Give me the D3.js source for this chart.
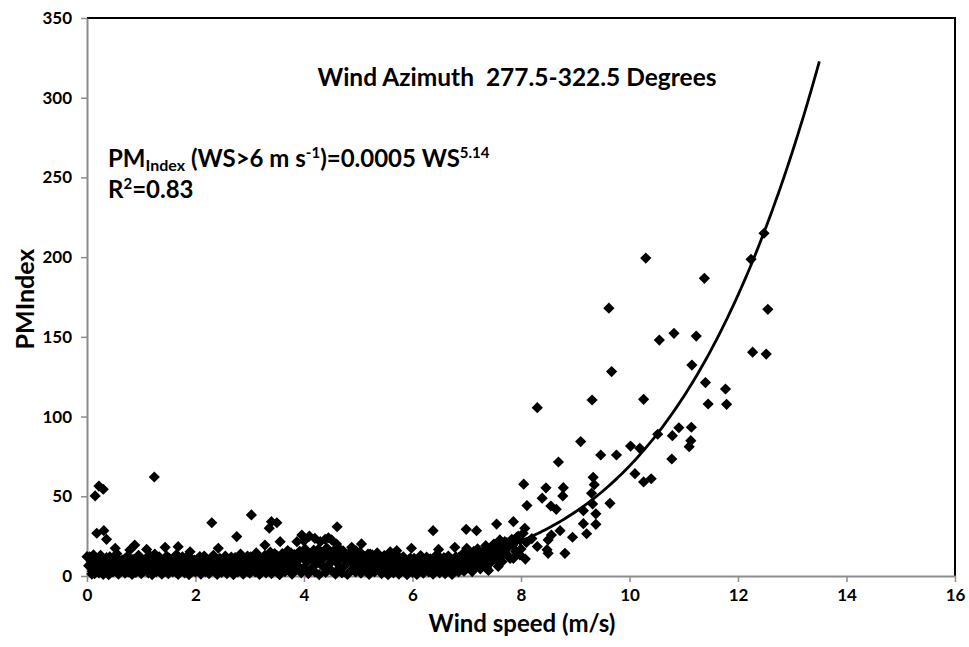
<!DOCTYPE html>
<html>
<head>
<meta charset="utf-8">
<script src="https://cdn.jsdelivr.net/npm/d3@7"></script>
<style>
  html, body { margin: 0; padding: 0; background: #fff; }
  svg text { font-family: Lato, "Open Sans", "Liberation Sans", sans-serif; font-weight: bold; fill: #000; }
</style>
</head>
<body>
<svg id="chart" width="969" height="647"></svg>
<script>
// Axis ticks
const xTicks = [0, 2, 4, 6, 8, 10, 12, 14, 16];
const yTicks = [0, 50, 100, 150, 200, 250, 300, 350];

// Power-law fit for WS > 6 m/s: PMIndex = a * WS^b
const fitCoef = 0.0005;
const fitExp = 5.14;
const fitRange = [6, 13.5];

// Observations: [wind speed (m/s), PMIndex]
const calmObs = [
  [0.05,12],[0.08,9],[0.1,3],[0.12,6],[0.14,1.5],[0.16,11],[0.18,4],[0.2,8],[0.22,2],[0.25,13],
  [0.27,5],[0.3,1],[0.32,9.5],[0.35,3.5],[0.38,7],[0.4,0.8],[0.42,12],[0.45,5.5],[0.48,2.5],[0.5,9],
  [0.53,4],[0.55,14],[0.58,1.2],[0.6,7.5],[0.63,3],[0.65,10],[0.68,5],[0.7,1.8],[0.73,8.5],[0.75,12.5],
  [0.78,3.8],[0.8,6.5],[0.83,1],[0.85,10.5],[0.88,4.5],[0.9,2.2],[0.93,8],[0.95,13],[0.98,5.8],
  [1.0,1.5],[1.03,9.8],[1.05,3.2],[1.08,6.8],[1.1,11.5],[1.13,2],[1.15,7.8],[1.18,4.8],[1.2,0.9],[1.22,10.2],
  [1.25,5.5],[1.28,2.8],[1.3,8.8],[1.33,12],[1.35,4],[1.38,1.2],[1.4,7],[1.43,9.5],[1.45,3],[1.48,5.8],
  [1.5,1.5],[1.52,11],[1.55,6.5],[1.58,2.5],[1.6,8.5],[1.63,4.2],[1.65,13.5],[1.68,1],[1.7,6],[1.73,9],
  [1.75,3.5],[1.78,7.5],[1.8,2],[1.83,11.8],[1.85,5],[1.88,0.8],[1.9,8.2],[1.93,3.8],[1.95,6.2],[1.98,10],
  [2.0,2.5],[2.03,7.2],[2.05,4.5],[2.08,12.2],[2.1,1.2],[2.13,8.8],[2.15,5.2],[2.18,2.8],[2.2,10.5],[2.22,6.8],
  [2.25,1.5],[2.28,4],[2.3,9.2],[2.33,13],[2.35,3],[2.38,7],[2.4,1],[2.43,5.5],[2.45,11],[2.48,2.2],
  [2.5,8],[2.53,4.8],[2.55,12.5],[2.58,1.5],[2.6,6.5],[2.63,9.8],[2.65,3.2],[2.68,7.5],[2.7,0.9],[2.73,11.5],
  [2.75,5],[2.78,2.5],[2.8,8.5],[2.83,13.8],[2.85,4.2],[2.88,1.2],[2.9,6.8],[2.93,10.2],[2.95,3],[2.98,7.8],
  [3.0,1.8],[3.02,12],[3.05,5.5],[3.08,9],[3.1,2.5],[3.12,14.5],[3.15,6.5],[3.18,1],[3.2,10.8],[3.22,4],
  [3.25,7.8],[3.28,13],[3.3,2],[3.32,9.5],[3.35,5],[3.38,15],[3.4,1.5],[3.42,11.2],[3.45,6.8],[3.48,3.2],
  [3.5,12.8],[3.52,8.5],[3.55,0.8],[3.58,4.5],[3.6,14],[3.62,10],[3.65,2.8],[3.68,7],[3.7,16],[3.72,5.2],
  [3.75,11.5],[3.78,1.2],[3.8,8.2],[3.82,13.5],[3.85,3.8],[3.88,9.8],[3.9,6],[3.92,15.5],[3.95,2],[3.98,12.2],
  [4.0,5],[4.02,17],[4.05,8.8],[4.08,1.5],[4.1,13.8],[4.12,4.2],[4.15,10.5],[4.18,16.2],[4.2,2.5],[4.22,7.5],
  [4.25,12.8],[4.28,0.9],[4.3,9.2],[4.32,15],[4.35,5.8],[4.38,11.8],[4.4,2.2],[4.42,17.5],[4.45,7],[4.48,13.2],
  [4.5,3.5],[4.52,10],[4.55,16],[4.58,1.2],[4.6,8.5],[4.62,14.2],[4.65,4.8],[4.68,11],[4.7,2],[4.72,15.8],
  [4.75,6.5],[4.78,12.5],[4.8,1],[4.82,9],[4.85,14.8],[4.88,3.8],[4.9,7.8],[4.92,13],[4.95,2.5],[4.98,10.8],
  [5.0,5.5],[5.03,15],[5.05,1.8],[5.08,8.8],[5.1,12.5],[5.13,3.5],[5.15,7],[5.18,13.8],[5.2,1],[5.22,9.8],
  [5.25,5],[5.28,11.5],[5.3,2.5],[5.33,7.8],[5.35,14.5],[5.38,4],[5.4,10],[5.43,1.5],[5.45,6.5],[5.48,12.8],
  [5.5,3],[5.53,8.5],[5.55,0.8],[5.58,11],[5.6,5.5],[5.63,13.5],[5.65,2],[5.68,7.5],[5.7,10.8],[5.73,4],
  [5.75,1.2],[5.78,9],[5.8,6],[5.83,12],[5.85,2.8],[5.88,7.2],[5.9,0.9],[5.93,10.2],[5.95,4.5],[5.98,8],
  [6.0,2.2],[6.03,11],[6.05,5.2],[6.08,1],[6.1,8.5],[6.13,3.5],[6.15,12.8],[6.18,6.2],[6.2,1.8],[6.23,9.5],
  [6.25,4.2],[6.28,7],[6.3,2.5],[6.33,10.8],[6.35,5.5],[6.38,1.2],[6.4,8],[6.43,3.8],[6.45,13.5],[6.48,6.5],
  [6.5,2],[6.53,9.2],[6.55,4.8],[6.58,11.5],[6.6,1.5],[6.63,7.5],[6.65,3.2],[6.68,10],[6.7,5.8],[6.73,1],
  [6.75,8.8],[6.78,4],[6.8,12],[6.83,6.8],[6.85,2.5],[6.88,9.8],[6.9,5],[6.93,14],[6.95,3],[6.98,7.8],
  [7.0,11.2],[7.03,5.5],[7.05,13.5],[7.08,8.5],[7.1,2.8],[7.13,15.5],[7.15,10],[7.18,6.2],[7.2,17],[7.23,12],
  [7.25,4.5],[7.28,9],[7.3,14.8],[7.33,7.5],[7.35,19],[7.38,11.5],[7.4,3.5],[7.43,16],[7.45,8.8],[7.48,13],
  [7.5,20],[7.53,10.5],[7.55,15],[7.58,6],[7.6,18.5],[7.63,12.5],[7.65,9],[7.7,21.5],[7.73,14],[7.75,17.5],
  [7.8,11],[7.83,23],[7.85,19.5],[7.9,15.5],[7.95,25],[7.98,13.2]
];

// Second batch of calm-wind readings from the same sector
const calmObsB = [
  [0.03,6.5],[0.09,1.2],[0.19,10.5],[0.28,7.5],[0.36,11.5],[0.46,3],[0.57,10.8],[0.66,6],[0.76,2.5],[0.86,7.2],
  [0.97,10.2],[1.07,4.5],[1.16,12.8],[1.27,7.2],[1.36,10.5],[1.47,12.5],[1.57,4.8],[1.67,9.2],[1.76,12],[1.86,7],
  [1.97,3.2],[2.06,9.8],[2.16,12.5],[2.26,6],[2.36,10.8],[2.46,7.2],[2.56,3.5],[2.66,11.8],[2.76,8.8],[2.86,10.5],
  [2.96,12.5],[3.06,11],[3.16,12.2],[3.26,10.2],[3.36,12.5],[3.46,14],[3.56,11.5],[3.66,13.2],[3.76,14.5],[3.86,11.8],
  [3.96,14.8],[4.06,13],[4.16,14.2],[4.26,16.5],[4.36,13.5],[4.46,15.5],[4.56,12.8],[4.66,16.8],[4.76,14],[4.86,12],
  [4.96,15.8],[5.06,11.5],[5.16,10.5],[5.26,13.2],[5.36,12],[5.46,9.5],[5.56,12.8],[5.66,10.5],[5.76,11.5],[5.86,9.8],
  [5.96,11.2],[6.06,9.5],[6.16,10.5],[6.26,11.8],[6.36,9],[6.46,10.8],[6.56,8.2],[6.66,12.5],[6.76,10.5],[6.86,11.8],
  [6.96,10.2],[7.06,12.2],[7.16,13],[7.26,12],[7.36,15],[7.46,17],[7.56,13.5],[7.66,16.5],[7.76,19],[7.88,21],
  [0.13,4.8],[0.43,9.8],[0.71,11],[1.02,6.2],[1.31,3.5],[1.62,6],[1.91,11.2],[2.21,3.8],[2.51,10.5],[2.81,6],
  [3.11,8.2],[3.41,8.8],[3.71,9.5],[4.01,10.2],[4.31,11],[4.61,10.5],[4.91,8.5],[5.21,7.5],[5.51,8],[5.81,4.2],
  [6.11,5.8],[6.41,6],[6.71,4.5],[7.01,7.2],[7.31,9.5],[7.61,11.5]
];

// Scattered higher readings at low and moderate wind speeds
const lowWindPeaks = [
  [0.15,50.2],[0.22,56.4],[0.3,54.4],[1.24,62.1],[0.18,26.8],[0.31,28.4],[0.36,23],[0,12.1],[0.12,13.2],
  [0.52,17.4],[0.79,16.3],[0.88,19.4],[1.1,16.7],[1.25,13.8],[1.44,18],[1.68,18.4],[1.9,15.2],
  [2.3,33.4],[2.42,17.4],[2.76,24.7],[3.03,38.3],[3.28,19.4],[3.36,30],[3.4,34.1],[3.5,33.4],
  [3.56,21.5],[3.87,21.5],[3.96,25.7],[4.0,22],[4.1,25],[4.2,23.6],[4.3,21.5],[4.39,23],[4.45,24],
  [4.51,22.6],[4.6,20],[4.61,30.9],[4.88,18],[5.06,20.1],[5.22,13.8],[5.59,15.2],[5.71,15.9],
  [5.98,17.4],[6.38,28.4],[6.48,16.7],[6.78,18],[7.0,17.4],[6.99,29.3],[7.18,28.4],[7.55,32.6],
  [7.86,34.1],[7.61,22.6],[7.74,20.9],[7.92,24.3],[7.49,16.3],[7.43,14.2],[7.37,4.8],[7.86,11.1]
];

// Readings at strong winds
const strongWindObs = [
  [7.98,22.6],[8.0,17],[8.04,26.8],[8.07,29.9],[8.08,10.6],[8.1,21],[8.2,23.5],[8.3,18.5],[8.48,16.5],
  [8.5,22.6],[8.5,14.2],[8.56,25.7],[8.72,28.4],[8.81,14.2],[8.95,24.3],[9.21,26.5],
  [8.05,57.6],[8.11,44.2],[8.3,105.6],[8.39,48.8],[8.46,55.3],[8.55,43.9],[8.65,41.8],[8.69,71.5],
  [8.77,50.2],[8.78,55.4],[9.1,84.3],[9.15,41],[9.15,32.8],[9.3,51.9],[9.32,45.2],[9.33,61.9],
  [9.35,57.3],[9.31,110.4],[9.38,39],[9.38,32.4],[9.47,75.9],[9.62,168],[9.64,45.6],[9.67,128.2],
  [9.76,75.9],[10.02,81.5],[10.1,64.2],[10.19,80.1],[10.26,59],[10.26,110.8],[10.3,199.4],[10.4,61],
  [10.52,88.9],[10.55,148],[10.78,73.4],[10.79,88],[10.82,152.2],[10.91,93],[11.1,81.1],[11.13,84.9],
  [11.14,93.3],[11.15,132.3],[11.23,150.5],[11.38,186.7],[11.4,121.3],[11.45,107.9],[11.77,117.3],
  [11.79,107.7],[12.24,198.6],[12.27,140.4],[12.48,215],[12.52,139.2],[12.55,167.3]
];

const observations = calmObs.concat(calmObsB, lowWindPeaks, strongWindObs);

const svg = d3.select("#chart");
const plot = { left: 87, right: 955, top: 18, bottom: 576 };

const x = d3.scaleLinear().domain([0, 16]).range([plot.left, plot.right]);
const y = d3.scaleLinear().domain([0, 350]).range([plot.bottom, plot.top]);

const axisGrey = "#8c8c8c";

// Frame: black top and right edges
svg.append("line").attr("x1", plot.left).attr("x2", plot.right + 1)
  .attr("y1", plot.top).attr("y2", plot.top)
  .attr("stroke", "#000").attr("stroke-width", 2);
svg.append("line").attr("x1", plot.right).attr("x2", plot.right)
  .attr("y1", plot.top).attr("y2", plot.bottom)
  .attr("stroke", "#000").attr("stroke-width", 2);

// Axes
const xAxis = svg.append("g")
  .attr("transform", `translate(0,${plot.bottom})`)
  .call(d3.axisBottom(x).tickValues(xTicks).tickSize(6).tickPadding(7).tickSizeOuter(0));
const yAxis = svg.append("g")
  .attr("transform", `translate(${plot.left},0)`)
  .call(d3.axisLeft(y).tickValues(yTicks).tickSize(6).tickPadding(9).tickSizeOuter(0));

[xAxis, yAxis].forEach(g => {
  g.select(".domain").attr("stroke", axisGrey).attr("stroke-width", 2);
  g.selectAll(".tick line").attr("stroke", axisGrey).attr("stroke-width", 1.5);
  g.selectAll(".tick text").attr("font-size", 17).attr("font-family", null).attr("fill", "#000");
});

// Points (diamond markers)
const r = 5.6;
const diamond = `M0,${-r}L${r},0L0,${r}L${-r},0Z`;
svg.append("g").selectAll("path")
  .data(observations)
  .join("path")
  .attr("d", diamond)
  .attr("transform", d => `translate(${x(d[0])},${y(d[1])})`)
  .attr("fill", "#000");

// Fitted curve
const fitX = d3.range(fitRange[0], fitRange[1] + 0.001, 0.05);
const line = d3.line().x(d => x(d)).y(d => y(fitCoef * Math.pow(d, fitExp)));
svg.append("path").datum(fitX).attr("d", line)
  .attr("fill", "none").attr("stroke", "#000").attr("stroke-width", 2.8);

// Title
svg.append("text").attr("x", 517).attr("y", 86).attr("text-anchor", "middle")
  .attr("font-size", 24.5).text("Wind Azimuth\u00a0\u00a0277.5-322.5 Degrees");

// Fit equation
const eq = svg.append("text").attr("x", 108).attr("y", 167).attr("font-size", 24);
eq.append("tspan").text("PM");
eq.append("tspan").attr("font-size", 16).attr("dy", 4).text("Index");
eq.append("tspan").attr("dy", -4).text(" (WS>6 m s");
eq.append("tspan").attr("font-size", 15).attr("dy", -9).text("-1");
eq.append("tspan").attr("dy", 9).text(")=0.0005 WS");
eq.append("tspan").attr("font-size", 15).attr("dy", -9).text("5.14");

const r2 = svg.append("text").attr("x", 108).attr("y", 198).attr("font-size", 24);
r2.append("tspan").text("R");
r2.append("tspan").attr("font-size", 15).attr("dy", -9).text("2");
r2.append("tspan").attr("dy", 9).text("=0.83");

// Axis titles
svg.append("text").attr("x", 522).attr("y", 632).attr("text-anchor", "middle")
  .attr("font-size", 24).text("Wind speed (m/s)");
svg.append("text").attr("transform", "translate(34,299) rotate(-90)")
  .attr("text-anchor", "middle").attr("font-size", 25).text("PMIndex");
</script>
</body>
</html>
